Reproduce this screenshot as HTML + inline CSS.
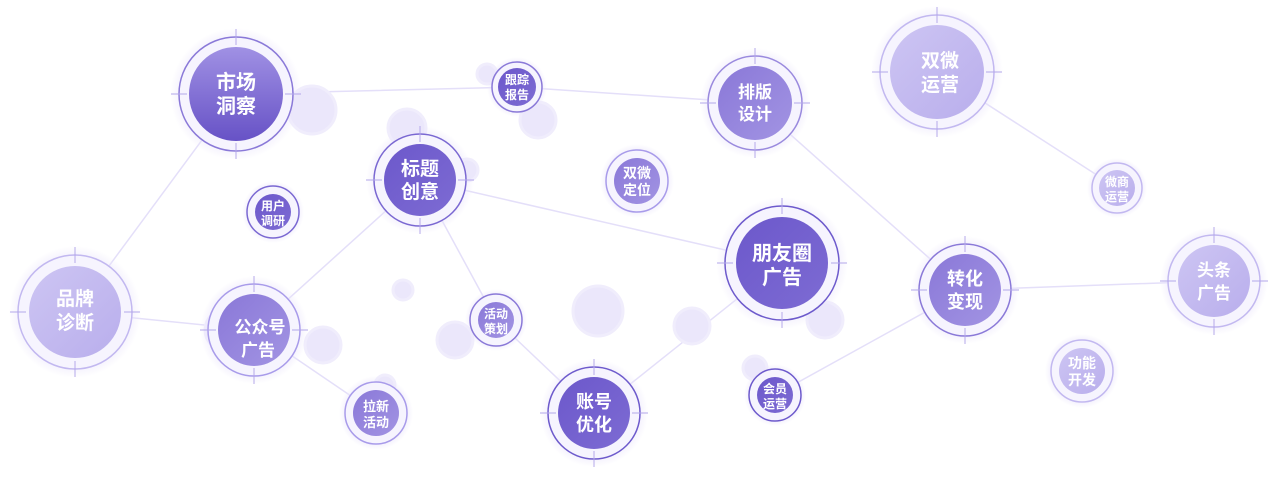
<!DOCTYPE html>
<html><head><meta charset="utf-8"><style>
html,body{margin:0;padding:0;background:#fff;}
svg{display:block}
text{font-family:"Liberation Sans","Noto Sans CJK SC",sans-serif;font-weight:bold;fill:#fff;text-anchor:middle}
</style></head><body>
<svg width="1284" height="491" viewBox="0 0 1284 491" xmlns="http://www.w3.org/2000/svg">
<defs>
<linearGradient id="gd" x1="0" y1="0" x2="0" y2="1"><stop offset="0" stop-color="#a091e4"/><stop offset="1" stop-color="#6752c6"/></linearGradient>
<linearGradient id="gk" x1="0" y1="0" x2="1" y2="1"><stop offset="0" stop-color="#6c58cb"/><stop offset="1" stop-color="#7d6bd3"/></linearGradient>
<linearGradient id="gm" x1="0" y1="0" x2="1" y2="1"><stop offset="0" stop-color="#8a78d8"/><stop offset="1" stop-color="#a294e3"/></linearGradient>
<linearGradient id="gl" x1="0" y1="0" x2="1" y2="1"><stop offset="0" stop-color="#cdc5f3"/><stop offset="1" stop-color="#b9aeec"/></linearGradient>
<radialGradient id="glow"><stop offset="0.7" stop-color="#ebe6fb"/><stop offset="1" stop-color="#ebe6fb" stop-opacity="0"/></radialGradient>
</defs>
<g stroke="#e4dff9" stroke-width="1.5" fill="none">
<polyline points="236,94 517,87 755,103 965,290 1214,281"/>
<line x1="965" y1="290" x2="775" y2="395"/>
<line x1="937" y1="72" x2="1117" y2="188"/>
<line x1="420" y1="180" x2="782" y2="263"/>
<line x1="782" y1="263" x2="594" y2="413"/>
<polyline points="594,413 496,320 420,180 254,330 75,312 236,94"/>
<line x1="254" y1="330" x2="376" y2="413"/>
</g>
<g fill="#ebe7fb" stroke="#f0edfc" stroke-width="3">
<circle cx="312" cy="110" r="24"/><circle cx="407" cy="128" r="19"/><circle cx="467" cy="170" r="11"/>
<circle cx="487" cy="74" r="10"/><circle cx="538" cy="120" r="18"/><circle cx="598" cy="311" r="25"/>
<circle cx="692" cy="326" r="18"/><circle cx="825" cy="320" r="18"/><circle cx="455" cy="340" r="18"/>
<circle cx="403" cy="290" r="10"/><circle cx="323" cy="345" r="18"/><circle cx="385" cy="385" r="10"/>
<circle cx="755" cy="368" r="12"/><circle cx="225" cy="330" r="20"/>
</g>
<g id="nodes">
<g><circle cx="236" cy="94" r="66" fill="url(#glow)"/><circle cx="236" cy="94" r="57" fill="#f6f4fe" stroke="#8a79d8" stroke-width="1.5"/><circle cx="236" cy="94" r="47" fill="url(#gd)"/><text x="236" y="89" font-size="20">市场</text><text x="236" y="113" font-size="20">洞察</text></g>
<g><circle cx="517" cy="87" r="30" fill="url(#glow)"/><circle cx="517" cy="87" r="25" fill="#f6f4fe" stroke="#8a79d8" stroke-width="1.5"/><circle cx="517" cy="87" r="19" fill="url(#gk)"/><text x="517" y="84" font-size="12">跟踪</text><text x="517" y="99" font-size="12">报告</text></g>
<g><circle cx="755" cy="103" r="55" fill="url(#glow)"/><circle cx="755" cy="103" r="47" fill="#f6f4fe" stroke="#9a8ade" stroke-width="1.5"/><circle cx="755" cy="103" r="37" fill="url(#gm)"/><text x="755" y="98" font-size="17">排版</text><text x="755" y="120" font-size="17">设计</text></g>
<g><circle cx="937" cy="72" r="66" fill="url(#glow)"/><circle cx="937" cy="72" r="57" fill="#f6f4fe" stroke="#c2b8f0" stroke-width="1.5"/><circle cx="937" cy="72" r="47" fill="url(#gl)"/><text x="940" y="67" font-size="19">双微</text><text x="940" y="91" font-size="19">运营</text></g>
<g><circle cx="420" cy="180" r="54" fill="url(#glow)"/><circle cx="420" cy="180" r="46" fill="#f6f4fe" stroke="#7a68d2" stroke-width="1.5"/><circle cx="420" cy="180" r="36" fill="url(#gk)"/><text x="420" y="175" font-size="19">标题</text><text x="420" y="198" font-size="19">创意</text></g>
<g><circle cx="273" cy="212" r="31" fill="url(#glow)"/><circle cx="273" cy="212" r="26" fill="#f6f4fe" stroke="#7a68d2" stroke-width="1.5"/><circle cx="273" cy="212" r="18" fill="url(#gk)"/><text x="273" y="210" font-size="12">用户</text><text x="273" y="225" font-size="12">调研</text></g>
<g><circle cx="637" cy="181" r="37" fill="url(#glow)"/><circle cx="637" cy="181" r="31" fill="#f6f4fe" stroke="#a89bea" stroke-width="1.5"/><circle cx="637" cy="181" r="23" fill="url(#gm)"/><text x="637" y="178" font-size="14">双微</text><text x="637" y="195" font-size="14">定位</text></g>
<g><circle cx="1117" cy="188" r="30" fill="url(#glow)"/><circle cx="1117" cy="188" r="25" fill="#f6f4fe" stroke="#c2b8f0" stroke-width="1.5"/><circle cx="1117" cy="188" r="18" fill="url(#gl)"/><text x="1117" y="186" font-size="12">微商</text><text x="1117" y="201" font-size="12">运营</text></g>
<g><circle cx="782" cy="263" r="66" fill="url(#glow)"/><circle cx="782" cy="263" r="57" fill="#f6f4fe" stroke="#6d5acc" stroke-width="1.5"/><circle cx="782" cy="263" r="46" fill="url(#gk)"/><text x="782" y="260" font-size="20">朋友圈</text><text x="782" y="284" font-size="20">广告</text></g>
<g><circle cx="965" cy="290" r="54" fill="url(#glow)"/><circle cx="965" cy="290" r="46" fill="#f6f4fe" stroke="#8a79d8" stroke-width="1.5"/><circle cx="965" cy="290" r="36" fill="url(#gm)"/><text x="965" y="285" font-size="18">转化</text><text x="965" y="308" font-size="18">变现</text></g>
<g><circle cx="1214" cy="281" r="54" fill="url(#glow)"/><circle cx="1214" cy="281" r="46" fill="#f6f4fe" stroke="#c2b8f0" stroke-width="1.5"/><circle cx="1214" cy="281" r="36" fill="url(#gl)"/><text x="1214" y="276" font-size="17">头条</text><text x="1214" y="299" font-size="17">广告</text></g>
<g><circle cx="75" cy="312" r="66" fill="url(#glow)"/><circle cx="75" cy="312" r="57" fill="#f6f4fe" stroke="#c2b8f0" stroke-width="1.5"/><circle cx="75" cy="312" r="46" fill="url(#gl)"/><text x="75" y="305" font-size="19">品牌</text><text x="75" y="329" font-size="19">诊断</text></g>
<g><circle cx="254" cy="330" r="54" fill="url(#glow)"/><circle cx="254" cy="330" r="46" fill="#f6f4fe" stroke="#a89bea" stroke-width="1.5"/><circle cx="254" cy="330" r="36" fill="url(#gm)"/><text x="260" y="333" font-size="17">公众号</text><text x="258" y="356" font-size="17">广告</text></g>
<g><circle cx="496" cy="320" r="31" fill="url(#glow)"/><circle cx="496" cy="320" r="26" fill="#f6f4fe" stroke="#8a79d8" stroke-width="1.5"/><circle cx="496" cy="320" r="18" fill="url(#gm)"/><text x="496" y="318" font-size="12">活动</text><text x="496" y="333" font-size="12">策划</text></g>
<g><circle cx="594" cy="413" r="54" fill="url(#glow)"/><circle cx="594" cy="413" r="46" fill="#f6f4fe" stroke="#6d5acc" stroke-width="1.5"/><circle cx="594" cy="413" r="36" fill="url(#gk)"/><text x="594" y="408" font-size="18">账号</text><text x="594" y="431" font-size="18">优化</text></g>
<g><circle cx="376" cy="413" r="37" fill="url(#glow)"/><circle cx="376" cy="413" r="31" fill="#f6f4fe" stroke="#a89bea" stroke-width="1.5"/><circle cx="376" cy="413" r="23" fill="url(#gm)"/><text x="376" y="411" font-size="13">拉新</text><text x="376" y="427" font-size="13">活动</text></g>
<g><circle cx="775" cy="395" r="31" fill="url(#glow)"/><circle cx="775" cy="395" r="26" fill="#f6f4fe" stroke="#6d5acc" stroke-width="1.5"/><circle cx="775" cy="395" r="18" fill="url(#gk)"/><text x="775" y="393" font-size="12">会员</text><text x="775" y="408" font-size="12">运营</text></g>
<g><circle cx="1082" cy="371" r="37" fill="url(#glow)"/><circle cx="1082" cy="371" r="31" fill="#f6f4fe" stroke="#c2b8f0" stroke-width="1.5"/><circle cx="1082" cy="371" r="23" fill="url(#gl)"/><text x="1082" y="368" font-size="14">功能</text><text x="1082" y="385" font-size="14">开发</text></g>
</g>
<g stroke="#b3a7ea" stroke-width="1.2" opacity="0.8">
<path d="M236 29v16M236 143v16M171 94h16M285 94h16"/>
<path d="M937 7v16M937 121v16M872 72h16M986 72h16"/>
<path d="M782 198v16M782 312v16M717 263h16M831 263h16"/>
<path d="M75 247v16M75 361v16M10 312h16M124 312h16"/>
<path d="M755 48v16M755 142v16M700 103h16M794 103h16"/>
<path d="M420 126v16M420 218v16M366 180h16M458 180h16"/>
<path d="M965 236v16M965 328v16M911 290h16M1003 290h16"/>
<path d="M1214 227v16M1214 319v16M1160 281h16M1252 281h16"/>
<path d="M254 276v16M254 368v16M200 330h16M292 330h16"/>
<path d="M594 359v16M594 451v16M540 413h16M632 413h16"/>
</g>
</svg>
</body></html>
